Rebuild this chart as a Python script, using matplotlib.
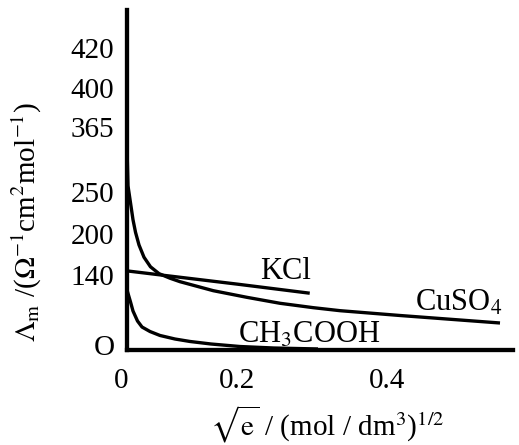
import numpy as np
import matplotlib
matplotlib.use("Agg")
import matplotlib.pyplot as plt
from matplotlib.transforms import ScaledTranslation

plt.rcParams['font.family'] = ['Liberation Serif', 'DejaVu Serif']
plt.rcParams['mathtext.fontset'] = 'stix'

# curves: sqrt(c) and molar conductivity
cuso4_x = [0.0, 0.0018, 0.0073, 0.0109, 0.0155, 0.0218, 0.0309, 0.0427, 0.0582,
           0.0782, 0.0964, 0.1569, 0.2129, 0.2573, 0.3017, 0.3373, 0.4173, 0.5507]
cuso4_y = [328, 261, 233, 217, 202, 184, 166, 152, 142,
           134, 127.5, 110.7, 98.4, 87.2, 79, 73.4, 64.4, 50.4]

kcl_x = [0.0, 0.062, 0.2, 0.297]
kcl_y = [146, 140, 123, 106]

acetic_x = [0.0, 0.0064, 0.0109, 0.0191, 0.0273, 0.0418, 0.06, 0.0873,
            0.1145, 0.1527, 0.204, 0.249, 0.308]
acetic_y = [112, 89.6, 72.8, 54.1, 42.9, 34.5, 27.1, 20.5,
            15.9, 11.2, 6.5, 3.7, 1.9]

y_ticks = [0, 140, 200, 250, 365, 400, 420]
y_tick_labels = ['O', '140', '200', '250', '365', '400', '420']
x_ticks = [0, 0.2, 0.4]
x_tick_labels = ['0', '0.2', '0.4']

# the drawing is not to scale: piecewise axis, knots taken from label spacing
y_vals = [-100, 0, 140, 200, 250, 365, 400, 420, 1000]
y_pos = [-54, 0, 75, 116, 158, 223, 262, 302, 1462]
x_vals = [-1.0, 0.0, 0.2, 1.0]
x_pos = [-550, 0, 110, 710]


def y_fwd(v):
    return np.interp(v, y_vals, y_pos)


def y_inv(h):
    return np.interp(h, y_pos, y_vals)


def x_fwd(v):
    return np.interp(v, x_vals, x_pos)


def x_inv(p):
    return np.interp(p, x_pos, x_vals)


fig = plt.figure(figsize=(5.19, 4.45), dpi=100)
ax = fig.add_axes([0.2447, 0.2135, 0.7437, 0.764])
ax.set_xscale('function', functions=(x_fwd, x_inv))
ax.set_yscale('function', functions=(y_fwd, y_inv))

lw = 2.4
for xs, ys in [(cuso4_x, cuso4_y), (kcl_x, kcl_y), (acetic_x, acetic_y)]:
    ax.plot(xs, ys, color='black', lw=lw, solid_capstyle='butt',
            solid_joinstyle='round')

ax.set_xlim(0, 0.568)
ax.set_ylim(0, 439)

for side in ['top', 'right']:
    ax.spines[side].set_visible(False)
for side in ['left', 'bottom']:
    ax.spines[side].set_linewidth(3.1)
    ax.spines[side].set_capstyle('projecting')

ax.set_yticks(y_ticks)
ax.set_yticklabels(y_tick_labels)
ax.set_xticks(x_ticks)
ax.set_xticklabels(x_tick_labels)
ax.minorticks_off()
ax.tick_params(axis='both', length=0, labelsize=21)
ax.tick_params(axis='y', pad=9)
ax.tick_params(axis='x', pad=13)

# nudge the origin labels like in the drawing
for lab in ax.get_yticklabels():
    if lab.get_text() == 'O':
        lab.set_transform(lab.get_transform() + ScaledTranslation(0, 0.05, fig.dpi_scale_trans))
for lab in ax.get_xticklabels():
    if lab.get_text() == '0':
        lab.set_transform(lab.get_transform() + ScaledTranslation(-0.06, 0, fig.dpi_scale_trans))

ax.text(0.265, 132, 'KCl', fontsize=22, ha='center', va='baseline')
ax.text(0.437, 73, r'CuSO$_4$', fontsize=22, ha='left', va='baseline')
ax.text(0.201, 13.6, r'CH$_3$COOH', fontsize=22, ha='left', va='baseline')

ax.set_ylabel(r'$\Lambda_\mathrm{m}$ /($\Omega^{-1}$cm$^2$mol$^{-1}$)', fontsize=21)
ax.yaxis.set_label_coords(-0.215, 0.375)
ax.set_xlabel(r'$\sqrt{\mathrm{e}}$ / (mol / dm$^3$)$^{1/2}$', fontsize=21)
ax.xaxis.set_label_coords(0.52, -0.157)

fig.savefig('out.png', dpi=100)
